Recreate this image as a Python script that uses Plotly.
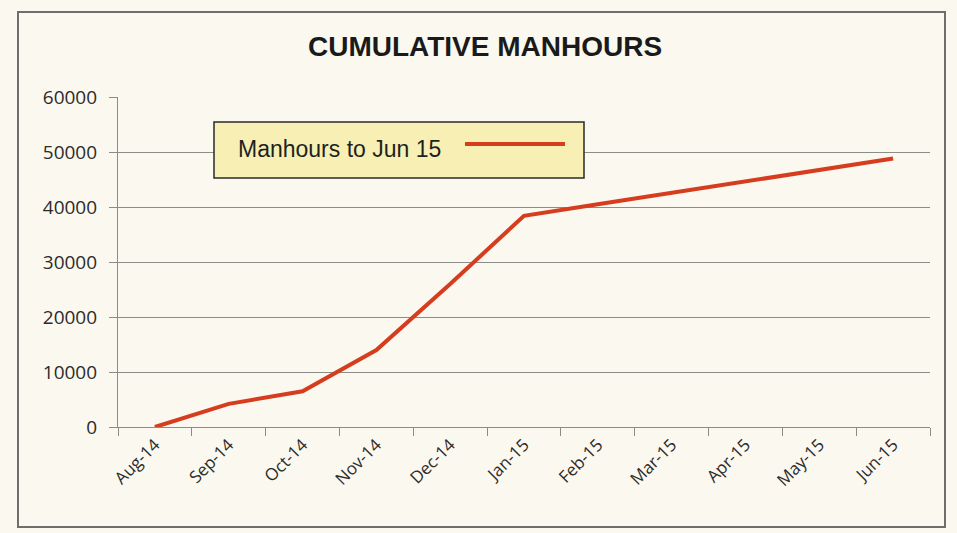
import plotly.graph_objects as go

months = ["Aug-14", "Sep-14", "Oct-14", "Nov-14", "Dec-14", "Jan-15",
          "Feb-15", "Mar-15", "Apr-15", "May-15", "Jun-15"]
manhours = [0, 4200, 6500, 14000, 26000, 38400, 40500, 42600, 44600, 46700, 48800]
series_name = "Manhours to Jun 15"
y_ticks = [0, 10000, 20000, 30000, 40000, 50000, 60000]

line_color = "#d63c1e"
grid_color = "#8c8c88"
bg = "#fbf8ef"

fig = go.Figure()
fig.add_trace(go.Scatter(
    x=months, y=manhours, mode="lines", name=series_name,
    line=dict(color=line_color, width=4), showlegend=False,
))

W, H = 957, 533
L, R, T, B = 118, 27, 97, 106
pw, ph = W - L - R, H - T - B

def px(x):
    return (x - L) / pw

def py(y):
    return (H - B - y) / ph

shapes = [
    # outer frame
    dict(type="rect", xref="paper", yref="paper",
         x0=px(18), x1=px(945), y0=py(527), y1=py(12),
         line=dict(color="#6e6e6a", width=2), fillcolor="rgba(0,0,0,0)", layer="below"),
    # legend box
    dict(type="rect", xref="paper", yref="paper",
         x0=px(214), x1=px(584), y0=py(178), y1=py(122),
         line=dict(color="#2a2a2a", width=1.5), fillcolor="#f7efb4"),
    # legend line sample
    dict(type="line", xref="paper", yref="paper",
         x0=px(465), x1=px(565), y0=py(144), y1=py(144),
         line=dict(color=line_color, width=4)),
]

annotations = [
    dict(text="<b>CUMULATIVE MANHOURS</b>", xref="paper", yref="paper",
         x=px(485), y=py(46), showarrow=False, xanchor="center", yanchor="middle",
         font=dict(family="Liberation Sans Narrow, Arial Narrow, Liberation Sans, sans-serif",
                   size=28, color="#1a1a1a")),
    dict(text=series_name, xref="paper", yref="paper",
         x=px(236), y=py(149), showarrow=False, xanchor="left", yanchor="middle",
         font=dict(family="Liberation Sans, Arial, sans-serif", size=23, color="#1f1f1f")),
]

fig.update_layout(
    width=W, height=H,
    margin=dict(l=L, r=R, t=T, b=B),
    paper_bgcolor=bg, plot_bgcolor=bg,
    shapes=shapes, annotations=annotations,
    xaxis=dict(
        type="category", range=[-0.5, 10.5], tickson="boundaries",
        ticks="outside", ticklen=8, tickcolor=grid_color, tickwidth=1.2,
        showline=True, linecolor=grid_color, linewidth=1.2,
        showgrid=False, tickangle=-45,
        tickfont=dict(family="Open Sans, DejaVu Sans, sans-serif", size=17, color="#2b2b2b"),
    ),
    yaxis=dict(
        range=[0, 60000], tickvals=y_ticks, ticktext=[str(v) for v in y_ticks],
        ticks="outside", ticklen=8, tickcolor=grid_color, tickwidth=1.2,
        showline=True, linecolor=grid_color, linewidth=1.2, ticklabelstandoff=8,
        showgrid=True, gridcolor=grid_color, gridwidth=1.2, zeroline=False,
        tickfont=dict(family="Open Sans, DejaVu Sans, sans-serif", size=19, color="#2b2b2b"),
    ),
)

fig.write_html("out.html", config={"displayModeBar": False},
               post_script="document.body.style.margin='0';document.body.style.background='%s';" % bg)
